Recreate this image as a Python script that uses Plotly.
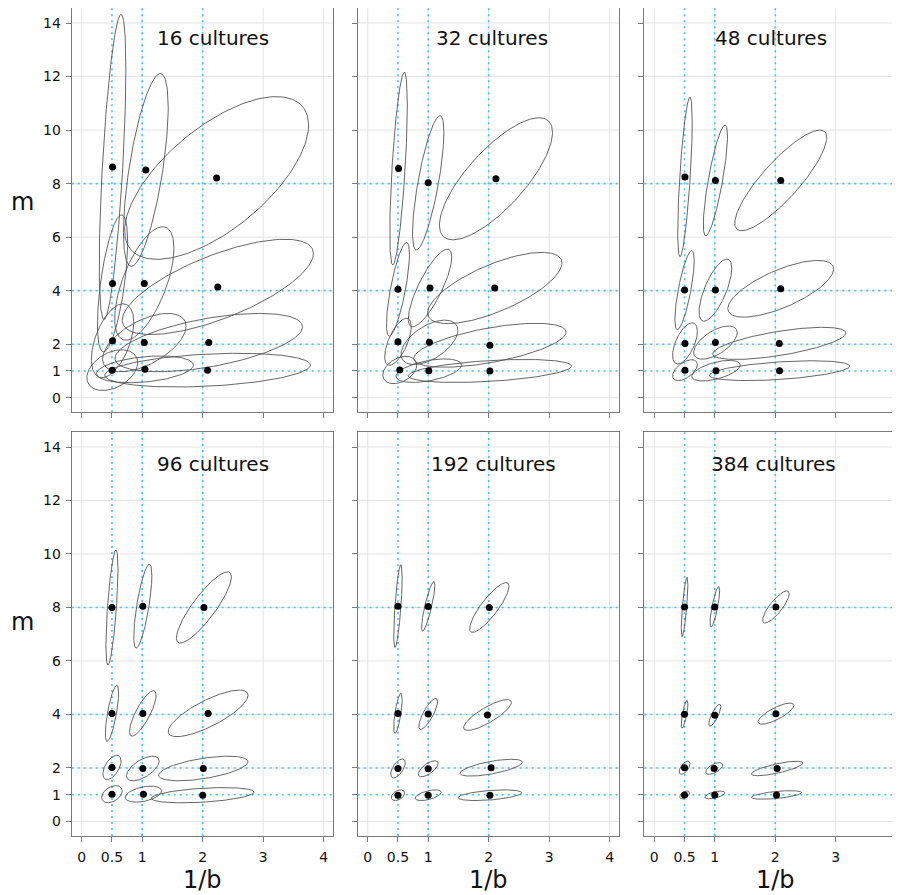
import numpy as np
import plotly.graph_objects as go

# ---------------- data ----------------
cultures = [16, 32, 48, 96, 192, 384]
true_inv_b = [0.5, 1, 2]
true_m = [1, 2, 4, 8]
x_ticks = [0, 0.5, 1, 2, 3, 4]
x_tick_labels = ["0", "0.5", "1", "2", "3", "4"]
y_ticks = [0, 1, 2, 4, 6, 8, 10, 12, 14]
y_tick_labels = ["0", "1", "2", "4", "6", "8", "10", "12", "14"]
grid_x = [0, 1, 2, 3, 4]
grid_y = [0, 2, 4, 6, 8, 10, 12, 14]

# each panel: 12 estimates ordered m=1 (1/b=0.5,1,2), m=2, m=4, m=8
est_inv_b = [
    [0.505, 1.046, 2.08, 0.51, 1.035, 2.10, 0.51, 1.035, 2.25, 0.51, 1.06, 2.23],
    [0.53, 1.01, 2.02, 0.50, 1.02, 2.02, 0.50, 1.03, 2.10, 0.51, 1.00, 2.12],
    [0.507, 1.02, 2.07, 0.507, 1.01, 2.066, 0.50, 1.01, 2.09, 0.507, 1.01, 2.09],
    [0.50, 1.02, 2.00, 0.50, 1.01, 2.01, 0.50, 1.01, 2.09, 0.50, 1.01, 2.02],
    [0.50, 1.00, 2.02, 0.50, 1.00, 2.04, 0.50, 1.00, 1.98, 0.50, 1.00, 2.01],
    [0.50, 1.00, 2.02, 0.50, 0.99, 2.03, 0.50, 1.00, 2.01, 0.50, 1.00, 2.01],
]
est_m = [
    [1.03, 1.06, 1.03, 2.13, 2.06, 2.06, 4.27, 4.27, 4.14, 8.62, 8.51, 8.21],
    [1.035, 1.01, 1.00, 2.09, 2.07, 1.96, 4.05, 4.10, 4.10, 8.56, 8.03, 8.18],
    [1.03, 1.01, 1.01, 2.03, 2.06, 2.03, 4.02, 4.02, 4.07, 8.25, 8.12, 8.12],
    [1.02, 1.02, 0.98, 2.02, 1.98, 1.98, 4.04, 4.04, 4.04, 8.00, 8.05, 8.00],
    [0.98, 0.98, 0.98, 1.98, 1.97, 2.01, 4.04, 4.02, 3.98, 8.05, 8.04, 8.00],
    [0.99, 0.99, 0.99, 2.01, 1.98, 1.98, 4.01, 3.97, 4.03, 8.02, 8.02, 8.02],
]
sd_inv_b = [
    [0.42, 0.80, 1.70, 0.35, 0.69, 1.55, 0.25, 0.49, 1.58, 0.22, 0.37, 1.52],
    [0.28, 0.54, 1.35, 0.22, 0.47, 1.26, 0.19, 0.36, 1.11, 0.145, 0.26, 0.935],
    [0.205, 0.40, 1.16, 0.205, 0.36, 1.10, 0.16, 0.27, 0.875, 0.12, 0.20, 0.76],
    [0.17, 0.30, 0.85, 0.15, 0.27, 0.74, 0.11, 0.22, 0.66, 0.10, 0.15, 0.455],
    [0.11, 0.215, 0.525, 0.12, 0.165, 0.515, 0.07, 0.155, 0.395, 0.07, 0.11, 0.325],
    [0.08, 0.165, 0.415, 0.09, 0.14, 0.425, 0.055, 0.10, 0.295, 0.055, 0.08, 0.22],
]
sd_m = [
    [0.76, 0.50, 0.63, 1.38, 1.09, 1.09, 2.56, 2.12, 1.78, 5.70, 3.60, 3.04],
    [0.51, 0.44, 0.43, 0.88, 0.83, 0.82, 1.75, 1.45, 1.33, 3.60, 2.51, 2.28],
    [0.39, 0.385, 0.37, 0.77, 0.62, 0.60, 1.48, 1.16, 1.06, 2.98, 2.07, 1.88],
    [0.32, 0.30, 0.285, 0.455, 0.46, 0.46, 1.05, 0.85, 0.87, 2.15, 1.57, 1.33],
    [0.20, 0.20, 0.20, 0.355, 0.30, 0.315, 0.75, 0.58, 0.575, 1.55, 0.93, 0.93],
    [0.15, 0.145, 0.16, 0.25, 0.22, 0.27, 0.52, 0.41, 0.395, 1.11, 0.76, 0.60],
]
corr = [
    [0.37, 0.32, 0.30, 0.50, 0.56, 0.54, 0.60, 0.62, 0.70, 0.64, 0.65, 0.65],
    [0.36, 0.48, 0.42, 0.64, 0.54, 0.60, 0.75, 0.80, 0.70, 0.66, 0.75, 0.76],
    [0.55, 0.55, 0.46, 0.58, 0.60, 0.65, 0.75, 0.70, 0.70, 0.69, 0.80, 0.85],
    [0.38, 0.40, 0.40, 0.53, 0.60, 0.55, 0.73, 0.80, 0.78, 0.67, 0.73, 0.86],
    [0.40, 0.55, 0.45, 0.60, 0.67, 0.65, 0.70, 0.80, 0.82, 0.70, 0.85, 0.85],
    [0.50, 0.55, 0.55, 0.60, 0.60, 0.75, 0.75, 0.80, 0.78, 0.75, 0.80, 0.82],
]

# ---------------- layout geometry (page pixels; page body has 8px margin) ----------------
OFF = 8.0
W, H = 900, 895
col_px = [(71.7, 333.3), (357.7, 619.3), (644.3, 905.9)]
row_px = [(8.3, 412.3), (432.3, 836.0)]
x0_px = [81.7, 367.7, 654.3]     # page pixel of x = 0 in each column
px_per_x = 60.5
y_range = [-0.545, 14.55]
title_cx = [[212.5, 492.0, 771.0], [212.5, 493.5, 773.3]]
title_cy = [38.0, 463.8]


def fx(px):
    return (px - OFF) / W


def fy(py):
    return 1 - (py - OFF) / H


FONT = "DejaVu Sans"
FRAME = "#7a7a7a"
GRID = "#e4e4e4"
BLUE = "#45c0ff"

fig = go.Figure()
t = np.linspace(0, 2 * np.pi, 181)
shapes = []
annotations = []

for p in range(6):
    row, col = divmod(p, 3)
    sfx = "" if p == 0 else str(p + 1)
    xa, ya = "x" + sfx, "y" + sfx

    # ellipses
    for k in range(12):
        cx, cy = est_inv_b[p][k], est_m[p][k]
        sx, sy, r = sd_inv_b[p][k], sd_m[p][k], corr[p][k]
        ex = cx + sx * np.cos(t)
        ey = cy + sy * (r * np.cos(t) + np.sqrt(1 - r * r) * np.sin(t))
        fig.add_trace(go.Scatter(x=ex, y=ey, mode="lines", xaxis=xa, yaxis=ya,
                                 line=dict(color="rgba(75,75,75,0.85)", width=1),
                                 hoverinfo="skip", showlegend=False))
    # points
    fig.add_trace(go.Scatter(x=est_inv_b[p], y=est_m[p], mode="markers",
                             xaxis=xa, yaxis=ya,
                             marker=dict(color="black", size=7),
                             showlegend=False))

    # axes
    left, right = col_px[col]
    top, bot = row_px[row]
    xr = [(left - x0_px[col]) / px_per_x, (right - x0_px[col]) / px_per_x]
    common = dict(showline=True, mirror=True, linecolor=FRAME, linewidth=1.2,
                  ticks="outside", ticklen=5, tickwidth=1, tickcolor=FRAME,
                  showgrid=False, zeroline=False,
                  tickfont=dict(family=FONT, size=14, color="#111"))
    fig.layout["xaxis" + sfx] = dict(
        domain=[fx(left), min(1.0, fx(right))], range=xr, anchor=ya,
        tickvals=x_ticks, ticktext=x_tick_labels, ticklabeloverflow="allow",
        showticklabels=(row == 1), ticklabelstandoff=3, **common)
    fig.layout["yaxis" + sfx] = dict(
        domain=[fy(bot), min(1.0, fy(top))], range=y_range, anchor=xa,
        tickvals=y_ticks, ticktext=y_tick_labels,
        showticklabels=(col == 0), ticklabelstandoff=2, **common)

    # light grid
    for v in grid_x:
        shapes.append(dict(type="line", xref=xa, yref=ya + " domain",
                           x0=v, x1=v, y0=0, y1=1, layer="below",
                           line=dict(color=GRID, width=1)))
    for v in grid_y:
        shapes.append(dict(type="line", xref=xa + " domain", yref=ya,
                           x0=0, x1=1, y0=v, y1=v, layer="below",
                           line=dict(color=GRID, width=1)))
    # true-value reference lines
    for v in true_inv_b:
        shapes.append(dict(type="line", xref=xa, yref=ya + " domain",
                           x0=v, x1=v, y0=0, y1=1, layer="below",
                           line=dict(color=BLUE, width=1.6, dash="2px,4px")))
    for v in true_m:
        shapes.append(dict(type="line", xref=xa + " domain", yref=ya,
                           x0=0, x1=1, y0=v, y1=v, layer="below",
                           line=dict(color=BLUE, width=1.6, dash="2px,4px")))

    annotations.append(dict(text=f"{cultures[p]} cultures", xref="paper", yref="paper",
                            x=fx(title_cx[row][col]), y=fy(title_cy[row]),
                            xanchor="center", yanchor="middle", showarrow=False,
                            font=dict(family=FONT, size=20, color="#111")))

# axis titles
for cy in [202.0, 622.0]:
    annotations.append(dict(text="m", xref="paper", yref="paper", x=fx(22.5), y=fy(cy),
                            xanchor="center", yanchor="middle", showarrow=False,
                            font=dict(family=FONT, size=24, color="#111")))
for cx in [202.5, 488.5, 775.0]:
    annotations.append(dict(text="1/b", xref="paper", yref="paper", x=fx(cx), y=fy(880.0),
                            xanchor="center", yanchor="middle", showarrow=False,
                            font=dict(family=FONT, size=24, color="#111")))

fig.update_layout(width=W, height=H, autosize=False,
                  margin=dict(l=0, r=0, t=0, b=0),
                  paper_bgcolor="white", plot_bgcolor="white",
                  shapes=shapes, annotations=annotations,
                  font=dict(family=FONT))

fig.write_html("out.html")
